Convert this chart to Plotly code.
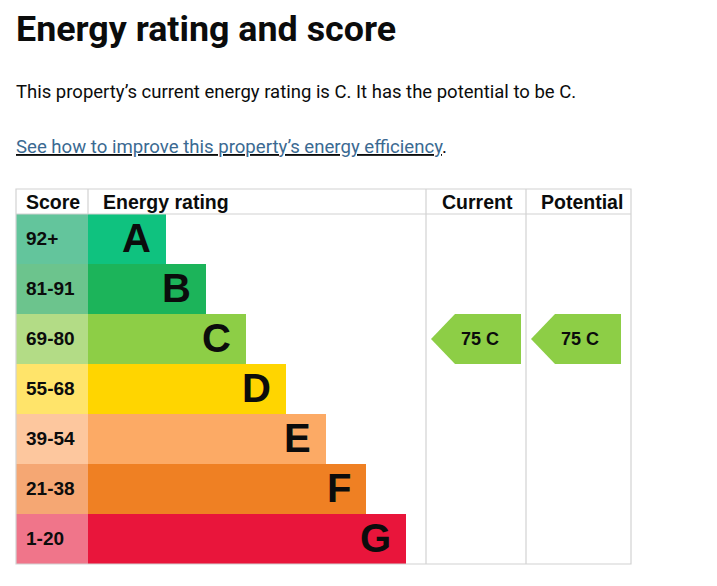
import plotly.graph_objects as go

# EPC bands, top (best) to bottom (worst)
bands = ["A", "B", "C", "D", "E", "F", "G"]
score_ranges = ["92+", "81-91", "69-80", "55-68", "39-54", "21-38", "1-20"]
band_min = [92, 81, 69, 55, 39, 21, 1]
bar_lengths = [78, 118, 158, 198, 238, 278, 318]
band_colours = ["#0fc27f", "#1cb45a", "#8dce46", "#ffd500", "#fcaa65", "#ef8023", "#e9153b"]
score_colours = ["#63c59c", "#6cc48d", "#b3dc86", "#ffe46a", "#fdc79e", "#f5a773", "#f0758a"]

current_score = 75
potential_score = 75

title = "Energy rating and score"
summary = "This property’s current energy rating is C. It has the potential to be C."
link_text = "See how to improve this property’s energy efficiency"

# column edges of the table (x axis is in page pixels)
col_score = (16, 88)
col_rating = (88, 426)
col_current = (426, 526)
col_potential = (526, 631)

W, H = 717, 586
OFF = 8  # default body margin of the html page
GRID = "#d2d2d2"
INK = "#0b0c0c"
FONT = "Liberation Sans"

rows = list(range(len(bands)))


def band_of(score):
    for i, m in enumerate(band_min):
        if score >= m:
            return i
    return len(bands) - 1


def page_y(px):
    # page pixel -> paper fraction
    return 1 - (px - OFF) / H


fig = go.Figure()

# score column
fig.add_trace(go.Bar(y=rows, x=[col_score[1] - col_score[0]] * len(rows), base=col_score[0],
                     orientation="h", width=1, marker=dict(color=score_colours, line_width=0),
                     hoverinfo="skip", showlegend=False))
# rating bars
fig.add_trace(go.Bar(y=rows, x=bar_lengths, base=col_rating[0],
                     orientation="h", width=1, marker=dict(color=band_colours, line_width=0),
                     hoverinfo="skip", showlegend=False))

annotations = []

# table lines
shapes = []
top, head_bottom, bottom = -1.0, -0.5, len(rows) - 0.5
shapes.append(dict(type="rect", x0=col_score[0], x1=col_potential[1], y0=top, y1=bottom,
                   line=dict(color=GRID, width=1.2)))
shapes.append(dict(type="line", x0=col_score[0], x1=col_potential[1], y0=head_bottom, y1=head_bottom,
                   line=dict(color=GRID, width=1.2)))
shapes.append(dict(type="line", x0=col_rating[0], x1=col_rating[0], y0=top, y1=head_bottom,
                   line=dict(color=GRID, width=1.2)))
for xx in (col_current[0], col_potential[0]):
    shapes.append(dict(type="line", x0=xx, x1=xx, y0=top, y1=bottom,
                       line=dict(color=GRID, width=1.2)))

# header labels
headers = [("Score", col_score[0] + 8), ("Energy rating", col_rating[0] + 13),
           ("Current", col_current[0] + 14), ("Potential", col_potential[0] + 13)]
for txt, xx in headers:
    annotations.append(dict(x=xx, y=(top + head_bottom) / 2, text="<b>%s</b>" % txt, showarrow=False,
                            xanchor="left", yanchor="middle",
                            font=dict(family=FONT, size=19.5, color=INK)))

# score labels and band letters
for i in rows:
    annotations.append(dict(x=col_score[0] + 8, y=i, yshift=1, text="<b>%s</b>" % score_ranges[i],
                            showarrow=False, xanchor="left", yanchor="middle",
                            font=dict(family=FONT, size=19, color=INK)))
    annotations.append(dict(x=col_rating[0] + bar_lengths[i], y=i, xshift=-13, yshift=1,
                            text="<b>%s</b>" % bands[i], showarrow=False,
                            xanchor="right", yanchor="middle",
                            font=dict(family=FONT, size=40, color=INK)))

# current / potential arrows
for score, col in ((current_score, col_current), (potential_score, col_potential)):
    b = band_of(score)
    left, right = col[0] + 5, col[0] + 95
    tip = 24
    fig.add_trace(go.Scatter(
        x=[left, left + tip, right, right, left + tip, left],
        y=[b, b - 0.5, b - 0.5, b + 0.5, b + 0.5, b],
        mode="lines", fill="toself", fillcolor=band_colours[b], line=dict(width=0),
        hoverinfo="skip", showlegend=False))
    annotations.append(dict(x=(left + right) / 2 + 4, y=b, text="<b>%d %s</b>" % (score, bands[b]),
                            showarrow=False, xanchor="center", yanchor="middle",
                            font=dict(family=FONT, size=18, color=INK)))

# page text
annotations.append(dict(x=14, y=page_y(29), yref="paper", text="<b>%s</b>" % title, showarrow=False,
                        xanchor="left", yanchor="middle",
                        font=dict(family="Roboto", size=35.8, color=INK)))
annotations.append(dict(x=14, y=page_y(92), yref="paper", text=summary, showarrow=False,
                        xanchor="left", yanchor="middle",
                        font=dict(family="Roboto", size=18.5, color=INK)))
annotations.append(dict(x=14, y=page_y(147), yref="paper",
                        text="<u><span style='color:#3b6a92'>%s</span></u>." % link_text,
                        showarrow=False, xanchor="left", yanchor="middle",
                        font=dict(family="Roboto", size=18.6, color=INK)))

row_px = 50.0
first_center = 239.0 - OFF
fig.update_layout(
    width=W, height=H, margin=dict(l=0, r=0, t=0, b=0),
    paper_bgcolor="white", plot_bgcolor="white",
    barmode="overlay",
    xaxis=dict(range=[OFF, W + OFF], visible=False, fixedrange=True),
    yaxis=dict(range=[(H - first_center) / row_px, -first_center / row_px], visible=False, fixedrange=True),
    shapes=shapes, annotations=annotations,
)

fig.write_html("out.html")
